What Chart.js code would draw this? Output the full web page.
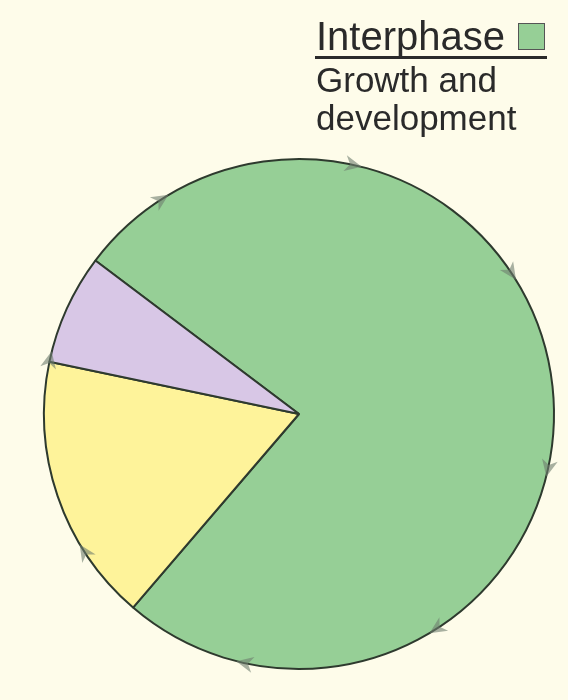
<!DOCTYPE html>
<html>
<head>
<meta charset="utf-8">
<script src="https://cdn.jsdelivr.net/npm/chart.js@4"></script>
<style>
  html, body { margin: 0; padding: 0; background: #fefcea; }
  #wrap { position: relative; width: 568px; height: 700px; }
  #legend { position: absolute; left: 316px; top: 0; color: #2a2a2a; font-family: "Liberation Sans", Arial, sans-serif; }
  #legend .title { position: absolute; top: 16px; left: 0; font-size: 40px; line-height: 40px; white-space: nowrap; }
  #legend .box { position: absolute; left: 202px; top: 23px; width: 25px; height: 25px; border: 1.5px solid #555; }
  #legend .rule { position: absolute; left: -1px; top: 56px; width: 232px; height: 3px; background: #2a2a2a; }
  #legend .desc { position: absolute; top: 61px; left: 0; font-size: 35px; line-height: 38px; white-space: nowrap; }
</style>
</head>
<body>
<div id="wrap">
  <canvas id="chart" width="568" height="700"></canvas>
  <div id="legend">
    <div class="title">Interphase</div>
    <div class="box"></div>
    <div class="rule"></div>
    <div class="desc">Growth and<br>development</div>
  </div>
</div>
<script>
const labels = ['Interphase', 'Mitosis', 'Cytokinesis']
const values = [76, 17, 7]
const colors = ['#96cf96', '#fef39a', '#d8c7e6']
// arrow marks around the rim, degrees clockwise from top
const arrowAngles = [327, 12, 56, 102, 147, 192, 237, 282]

document.querySelector('#legend .box').style.background = colors[0]

const rimArrows = {
  id: 'rimArrows',
  afterDatasetsDraw(chart) {
    const arc = chart.getDatasetMeta(0).data[0]
    const { x, y, outerRadius } = arc.getProps(['x', 'y', 'outerRadius'], true)
    const ctx = chart.ctx
    ctx.save()
    ctx.fillStyle = 'rgba(110,125,110,0.6)'
    arrowAngles.forEach(a => {
      const t = (a - 90) * Math.PI / 180
      const px = x + outerRadius * Math.cos(t)
      const py = y + outerRadius * Math.sin(t)
      // tangent (clockwise) and normal directions
      const tx = -Math.sin(t), ty = Math.cos(t)
      const nx = Math.cos(t), ny = Math.sin(t)
      ctx.beginPath()
      ctx.moveTo(px + tx * 10, py + ty * 10)
      ctx.lineTo(px - tx * 7 + nx * 8, py - ty * 7 + ny * 8)
      ctx.lineTo(px - tx * 2, py - ty * 2)
      ctx.lineTo(px - tx * 7 - nx * 8, py - ty * 7 - ny * 8)
      ctx.closePath()
      ctx.fill()
    })
    ctx.restore()
  }
}

new Chart(document.querySelector('#chart'), {
  type: 'pie',
  data: {
    labels: labels,
    datasets: [{
      data: values,
      backgroundColor: colors,
      borderColor: '#2e3a2e',
      borderWidth: 2
    }]
  },
  options: {
    responsive: false,
    animation: false,
    rotation: -53,
    layout: { padding: { left: 43, right: 13, top: 158, bottom: 30 } },
    plugins: {
      legend: { display: false },
      tooltip: { enabled: false }
    }
  },
  plugins: [rimArrows]
})
</script>
</body>
</html>
